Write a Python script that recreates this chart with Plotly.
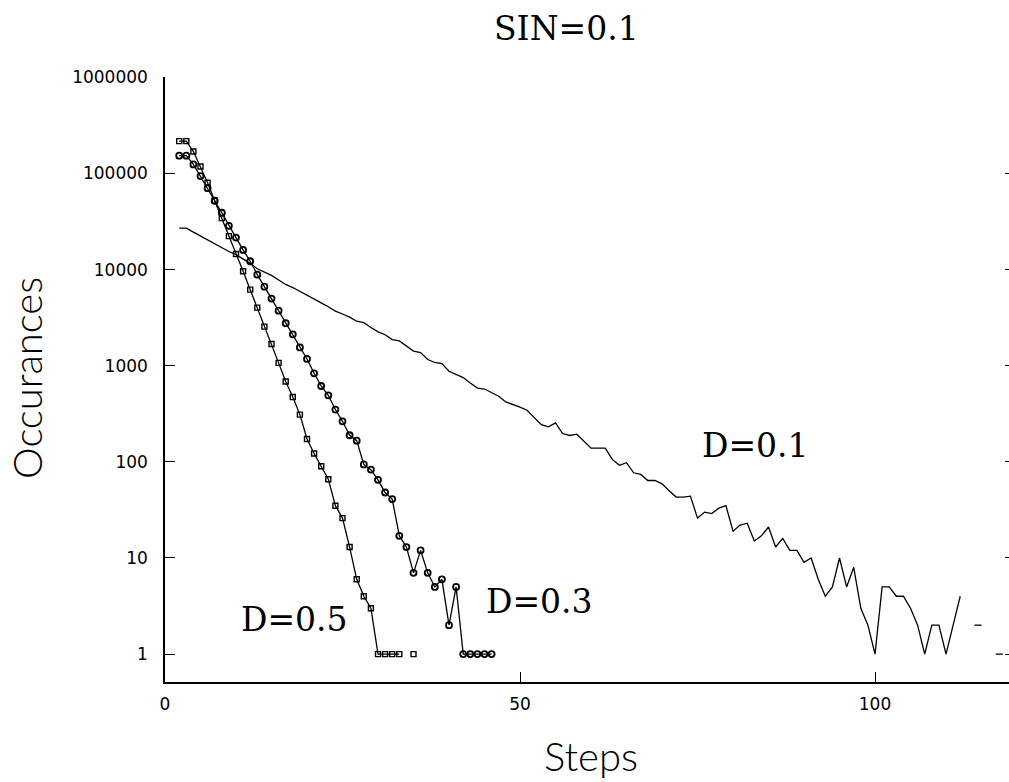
import plotly.graph_objects as go

# ---------------- data ----------------
steps_d01 = list(range(2, 119))
occ_d01 = [27000, 27000, 24500, 22300, 20200, 18300, 16700, 15400, 14300, 13000,
           11600, 10200, 9500, 8700, 7800, 7000, 6500, 5900, 5400, 4900,
           4500, 4100, 3700, 3450, 3200, 2900, 2800, 2500, 2250, 2100,
           1870, 1810, 1600, 1420, 1370, 1160, 1080, 1050, 875, 810,
           752, 660, 586, 572, 520, 481, 420, 397, 370, 344,
           290, 244, 231, 254, 197, 188, 194, 165, 139, 139,
           139, 106, 92, 98, 77, 74, 64, 64, 59, 50,
           43, 43, 44, 26, 30, 29, 33, 35, 19, 22,
           23, 15, 17, 21, 13, 16, 12, 12, 9, 10,
           6, 4, 5, 10, 5, 8, 3, 2, 1, 5,
           5, 4, 4, 3, 2, 1, 2, 2, 1, 2,
           4, None, 2, 2, None, 1, 1]

steps_d03 = list(range(2, 47))
occ_d03 = [153000, 153000, 124000, 93800, 70300, 52000, 39000, 28500, 21500, 16000,
           12200, 8850, 6640, 4990, 3740, 2770, 2120, 1550, 1175, 834,
           615, 492, 350, 264, 189, 166, 94, 83, 65, 48,
           41, 17, 13, 7, 12, 7, 5, 6, 2, 5,
           1, 1, 1, 1, 1]

steps_d05 = list(range(2, 36))
occ_d05 = [217000, 217000, 169000, 118000, 80000, 52000, 34300, 22300, 14500, 9600,
           6180, 4020, 2550, 1680, 1070, 684, 473, 310, 173, 122,
           90, 66, 35, 26, 13, 6, 4, 3, 1, 1,
           1, 1, None, 1]

x_ticks = [0, 50, 100]
y_ticks = [1, 10, 100, 1000, 10000, 100000, 1000000]
y_tick_text = ["1", "10", "100", "1000", "10000", "100000", "1000000"]

series_labels = ["D=0.1", "D=0.3", "D=0.5"]
label_pos_x = [83.2, 52.8, 18.2]
label_pos_y = [2.17, 0.55, 0.36]  # log10 positions of the in-plot labels

# ---------------- figure ----------------
fig = go.Figure()

fig.add_trace(go.Scatter(x=steps_d01, y=occ_d01, mode="lines",
                         line=dict(color="black", width=1.3),
                         connectgaps=False, showlegend=False))
fig.add_trace(go.Scatter(x=steps_d03, y=occ_d03, mode="lines+markers",
                         line=dict(color="black", width=1.3),
                         marker=dict(symbol="circle-open", size=6, color="black",
                                     line=dict(width=1.8, color="black")),
                         connectgaps=False, showlegend=False))
fig.add_trace(go.Scatter(x=steps_d05, y=occ_d05, mode="lines+markers",
                         line=dict(color="black", width=1.3),
                         marker=dict(symbol="square-open", size=5, color="black",
                                     line=dict(width=1.4, color="black")),
                         connectgaps=False, showlegend=False))
# empty trace so that the mirrored right-hand tick axis is drawn
fig.add_trace(go.Scatter(x=[None], y=[None], yaxis="y2", mode="lines",
                         showlegend=False, hoverinfo="skip"))

tickfont = dict(family="DejaVu Sans", size=17, color="black")

fig.update_layout(
    width=1009, height=782,
    margin=dict(l=165, r=0, t=77, b=100, pad=0),
    paper_bgcolor="white", plot_bgcolor="white",
    xaxis=dict(range=[0, 118.87], tickmode="array", tickvals=x_ticks,
               ticks="inside", ticklen=10, tickwidth=1, tickcolor="black",
               showline=True, linecolor="black", linewidth=1.5,
               showgrid=False, zeroline=False, tickfont=tickfont,
               ticklabelstandoff=6),
    yaxis=dict(type="log", range=[-0.29, 6.003], tickmode="array",
               tickvals=y_ticks, ticktext=y_tick_text,
               ticks="inside", ticklen=10, tickwidth=1, tickcolor="black",
               showline=True, linecolor="black", linewidth=1.5,
               showgrid=False, zeroline=False, tickfont=tickfont,
               ticklabelstandoff=12),
    yaxis2=dict(type="log", range=[-0.29, 6.003], overlaying="y", side="right",
                tickmode="array", tickvals=y_ticks, showticklabels=False,
                ticks="inside", ticklen=4, tickwidth=1, tickcolor="black",
                showline=False, showgrid=False, zeroline=False),
)

serif = dict(family="DejaVu Serif", size=33, color="black")
axis_title_font = dict(family="Lato", size=40, color="black", weight=300)
annotations = [
    dict(text="SIN=0.1", xref="paper", yref="paper", x=0.4763, y=1.080,
         xanchor="center", yanchor="middle", showarrow=False, font=serif),
    dict(text="Occurances", xref="paper", yref="paper", x=-0.1635, y=0.5025,
         xanchor="center", yanchor="middle", textangle=-90, showarrow=False,
         font=axis_title_font),
    dict(text="Steps", xref="paper", yref="paper", x=0.5047, y=-0.122,
         xanchor="center", yanchor="middle", showarrow=False,
         font=axis_title_font),
]
for t, lx, ly in zip(series_labels, label_pos_x, label_pos_y):
    annotations.append(dict(text=t, xref="x", yref="y", x=lx, y=ly,
                            xanchor="center", yanchor="middle",
                            showarrow=False, font=serif))
fig.update_layout(annotations=annotations)

fig.write_html("out.html")
